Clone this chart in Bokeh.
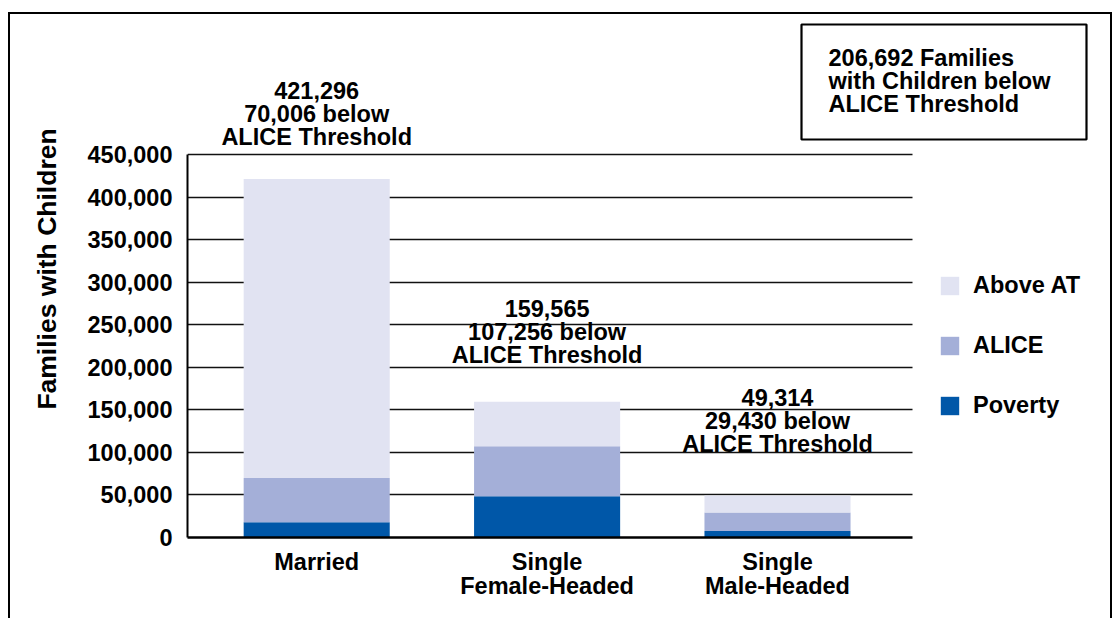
from bokeh.plotting import figure
from bokeh.models import (Range1d, FixedTicker, NumeralTickFormatter, BoxAnnotation,
                          Label, Legend, LegendItem, ColumnDataSource)
from bokeh.core.properties import value
from bokeh.embed import file_html
from bokeh.resources import INLINE

# ---- data ----
categories = ["Married", "Single\nFemale-Headed", "Single\nMale-Headed"]
totals = [421296, 159565, 49314]
below_alice = [70006, 107256, 29430]
poverty = [18000, 48500, 7700]
y_ticks = [0, 50000, 100000, 150000, 200000, 250000, 300000, 350000, 400000, 450000]
series_labels = ["Poverty", "ALICE", "Above AT"]
summary_total = 206692

# ---- styles / layout (pixels) ----
colors = ["#0057A8", "#A4AFD8", "#E1E3F2"]
FONT = "Liberation Sans"
FS = "23.5px"
label_gap = [42, 47, 52]   # px between bar top and last label line
LINE = 23
W, H = 1118, 618
FRAME_L, FRAME_B = 187, 537      # y axis x-position, zero line y-position
Y_MAX_PX = 154                   # pixel row of y_ticks[-1]
CAT_PX = 230.4                   # px per category
FIRST_CAT_PX = 316.2             # centre of first bar
GRID_R_PX = 912                  # right end of grid lines

alice = [b - p for b, p in zip(below_alice, poverty)]
above = [t - b for t, b in zip(totals, below_alice)]
xs = list(range(len(categories)))

y_max = y_ticks[-1]
y_end = y_max * FRAME_B / (FRAME_B - Y_MAX_PX)
x_start = -(FIRST_CAT_PX - FRAME_L) / CAT_PX
x_end = x_start + (W - FRAME_L) / CAT_PX
x_grid_end = x_start + (GRID_R_PX - FRAME_L) / CAT_PX

source = ColumnDataSource(dict(
    x=xs, poverty=poverty, alice=alice, above=above, total=totals,
    l1=[f"{t:,}" for t in totals],
    l2=[f"{b:,} below" for b in below_alice],
    l3=["ALICE Threshold"] * len(totals),
    o3=[-g for g in label_gap],
    o2=[-g - LINE for g in label_gap],
    o1=[-g - 2 * LINE for g in label_gap],
))

p = figure(width=W, height=H, output_backend="svg", toolbar_location=None,
           x_range=Range1d(x_start, x_end), y_range=Range1d(0, y_end),
           min_border_left=FRAME_L, min_border_right=0, min_border_top=0,
           min_border_bottom=H - FRAME_B)
p.outline_line_color = None
p.background_fill_color = None
p.border_fill_color = None
# outer page frame (left, top, right edges; bottom runs off the page),
# drawn as the element background behind the transparent canvas
p.styles = {"background": (
    "linear-gradient(#000, #000) 8px 12px / 2px 100% no-repeat, "
    "linear-gradient(#000, #000) 8px 12px / 1104px 2px no-repeat, "
    "linear-gradient(#000, #000) 1110px 12px / 2px 100% no-repeat, #fff")}

rs = p.vbar_stack(["poverty", "alice", "above"], x="x", width=0.634,
                  fill_color=colors, line_color=None, source=source)

# grid
p.xgrid.grid_line_color = None
p.ygrid.ticker = FixedTicker(ticks=y_ticks)
p.ygrid.grid_line_color = "#111111"
p.ygrid.grid_line_width = 1.6
p.ygrid.bounds = (0, y_max)
p.ygrid.cross_bounds = (x_start, x_grid_end)

# y axis
p.yaxis.ticker = FixedTicker(ticks=y_ticks)
p.yaxis.bounds = (0, y_max)
p.yaxis.formatter = NumeralTickFormatter(format="0,0")
p.yaxis.axis_label = "Families with Children"
p.yaxis.axis_label_text_font = FONT
p.yaxis.axis_label_text_font_size = "26.5px"
p.yaxis.axis_label_text_font_style = "bold"
p.yaxis.axis_label_text_color = "black"
p.yaxis.axis_label_standoff = 23
p.yaxis.major_label_standoff = 15
p.yaxis.major_tick_out = 0
p.yaxis.major_tick_in = 0
p.yaxis.minor_tick_line_color = None
p.yaxis.axis_line_width = 2
p.yaxis.axis_line_color = "black"

# x axis
p.xaxis.ticker = FixedTicker(ticks=xs)
p.xaxis.bounds = (x_start, x_grid_end)
p.xaxis.major_label_overrides = {i: c for i, c in zip(xs, categories)}
p.xaxis.major_label_standoff = 11
p.xaxis.major_tick_out = 0
p.xaxis.major_tick_in = 0
p.xaxis.minor_tick_line_color = None
p.xaxis.axis_line_width = 2.5
p.xaxis.axis_line_color = "black"

for ax in (p.xaxis[0], p.yaxis[0]):
    ax.major_label_text_font = FONT
    ax.major_label_text_font_size = FS
    ax.major_label_text_font_style = "bold"
    ax.major_label_text_color = "black"
p.xaxis.major_label_text_line_height = 0.95

# data labels above bars
for col, off in (("l1", "o1"), ("l2", "o2"), ("l3", "o3")):
    p.text(x="x", y="total", text=col, y_offset=off, source=source,
           text_align="center", text_baseline="middle",
           text_font=value(FONT), text_font_size=FS, text_font_style="bold",
           text_color="black")

# legend
legend = Legend(items=[LegendItem(label=series_labels[2], renderers=[rs[2]]),
                       LegendItem(label=series_labels[1], renderers=[rs[1]]),
                       LegendItem(label=series_labels[0], renderers=[rs[0]])],
                location=(938 - FRAME_L, 118), glyph_width=23, glyph_height=23,
                label_height=23, spacing=33, label_standoff=12, padding=0, margin=0,
                border_line_color=None, background_fill_alpha=0,
                label_text_font=FONT, label_text_font_size=FS,
                label_text_font_style="bold", label_text_color="black")
p.add_layout(legend)

# summary box
p.add_layout(BoxAnnotation(left=801, right=1086, top=24, bottom=139,
                           left_units="canvas", right_units="canvas",
                           top_units="canvas", bottom_units="canvas",
                           fill_alpha=0, line_color="black", line_alpha=1,
                           line_width=2.2, level="overlay"))
summary_lines = [f"{summary_total:,} Families", "with Children below", "ALICE Threshold"]
for i, t in enumerate(summary_lines):
    p.add_layout(Label(x=828, y=57 + i * LINE, x_units="canvas", y_units="canvas",
                       text=t, text_align="left", text_baseline="middle",
                       text_font=FONT, text_font_size=FS, text_font_style="bold",
                       text_color="black"))

open("out.html", "w").write(file_html(p, INLINE))
